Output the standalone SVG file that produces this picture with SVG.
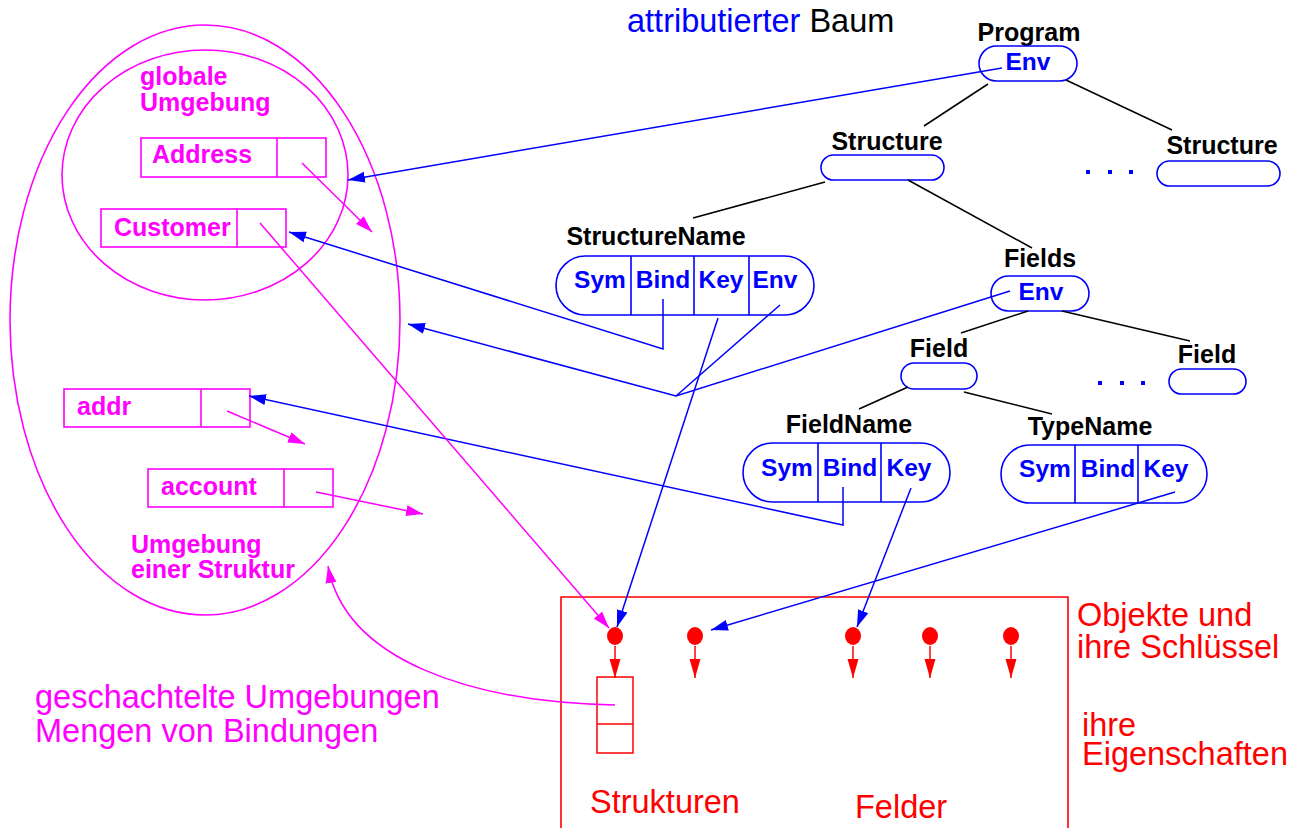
<svg xmlns="http://www.w3.org/2000/svg" width="1303" height="828" viewBox="0 0 1303 828">
<style>
.bk{font-family:"Liberation Sans",Arial,sans-serif;font-weight:bold;font-size:25px;fill:#000;text-anchor:middle}
.bl{font-family:"Liberation Sans",Arial,sans-serif;font-weight:bold;font-size:24.5px;fill:#0000ff;text-anchor:middle}
.mg{font-family:"Liberation Sans",Arial,sans-serif;font-weight:bold;font-size:25px;fill:#ff00ff}
.rd{font-family:"Liberation Sans",Arial,sans-serif;font-size:32.5px;fill:#ff0000}
.mgl{font-family:"Liberation Sans",Arial,sans-serif;font-size:32.5px;fill:#ff00ff}
.pill{fill:none;stroke:#0000ff;stroke-width:1.6}
.div{stroke:#0000ff;stroke-width:1.6}
.tree{stroke:#000;stroke-width:1.5;fill:none}
.bla{stroke:#0000ff;stroke-width:1.5;fill:none}
.mga{stroke:#ff00ff;stroke-width:1.5;fill:none}
.rda{stroke:#ff0000;stroke-width:1.5;fill:none}
.mbox{fill:none;stroke:#ff00ff;stroke-width:1.6}
</style>
<defs>
<marker id="ab" markerUnits="userSpaceOnUse" markerWidth="18" markerHeight="12" refX="17" refY="6" orient="auto"><path d="M0,0.5 L17,6 L0,11.5 z" fill="#0000ff"/></marker>
<marker id="am" markerUnits="userSpaceOnUse" markerWidth="18" markerHeight="12" refX="17" refY="6" orient="auto"><path d="M0,0.5 L17,6 L0,11.5 z" fill="#ff00ff"/></marker>
<marker id="ar" markerUnits="userSpaceOnUse" markerWidth="20" markerHeight="12" refX="19" refY="6" orient="auto"><path d="M0,0.5 L19,6 L0,11.5 z" fill="#ff0000"/></marker>
</defs>
<rect width="1303" height="828" fill="#fff"/>

<text x="627" y="32" font-family="Liberation Sans, Arial, sans-serif" font-size="32.5"><tspan fill="#0000ff">attributierter</tspan><tspan fill="#000"> Baum</tspan></text>

<g id="environments">
<ellipse cx="205" cy="320" rx="195" ry="295" fill="none" stroke="#ff00ff" stroke-width="1.6"/>
<ellipse cx="205" cy="175" rx="143" ry="125" fill="none" stroke="#ff00ff" stroke-width="1.6"/>
<text class="mg" x="140" y="85">globale</text>
<text class="mg" x="140" y="111">Umgebung</text>
<text class="mg" x="131" y="553">Umgebung</text>
<text class="mg" x="131" y="578">einer Struktur</text>
</g>
<g id="bind-address"><rect class="mbox" x="141" y="138" width="185" height="39"/><line class="mbox" x1="277" y1="138" x2="277" y2="177"/><text class="mg" x="152" y="163">Address</text></g>
<g id="bind-customer"><rect class="mbox" x="101" y="209" width="185" height="38"/><line class="mbox" x1="237" y1="209" x2="237" y2="247"/><text class="mg" x="114" y="236">Customer</text></g>
<g id="bind-addr"><rect class="mbox" x="64" y="389" width="186" height="38"/><line class="mbox" x1="201" y1="389" x2="201" y2="427"/><text class="mg" x="77" y="415">addr</text></g>
<g id="bind-account"><rect class="mbox" x="148" y="469" width="185" height="38"/><line class="mbox" x1="284" y1="469" x2="284" y2="507"/><text class="mg" x="161" y="495">account</text></g>

<g id="program"><text class="bk" x="1029" y="41">Program</text><rect class="pill" x="979" y="46" width="98" height="35" rx="17.5"/><text class="bl" x="1028" y="70">Env</text></g>
<g id="structure1"><text class="bk" x="887" y="150">Structure</text><rect class="pill" x="821" y="155" width="123" height="25" rx="12.5"/></g>
<g id="structure2"><text class="bk" x="1222" y="154">Structure</text><rect class="pill" x="1157" y="161" width="123" height="25" rx="12.5"/></g>
<g id="dots1" fill="#0000ff"><rect x="1086" y="170" width="4" height="4"/><rect x="1108" y="170" width="4" height="4"/><rect x="1129" y="170" width="4" height="4"/></g>
<g id="structurename"><text class="bk" x="656" y="245">StructureName</text><rect class="pill" x="556" y="256" width="258" height="59" rx="29.5"/>
<line class="div" x1="631" y1="256" x2="631" y2="315"/><line class="div" x1="694" y1="256" x2="694" y2="315"/><line class="div" x1="749" y1="256" x2="749" y2="315"/>
<text class="bl" x="600" y="288">Sym</text><text class="bl" x="663" y="288">Bind</text><text class="bl" x="721" y="288">Key</text><text class="bl" x="775" y="288">Env</text></g>
<g id="fields"><text class="bk" x="1040" y="267">Fields</text><rect class="pill" x="991" y="276" width="98" height="35" rx="17.5"/><text class="bl" x="1041" y="300">Env</text></g>
<g id="field1"><text class="bk" x="939" y="357">Field</text><rect class="pill" x="901" y="363" width="76" height="26" rx="13"/></g>
<g id="field2"><text class="bk" x="1207" y="363">Field</text><rect class="pill" x="1169" y="369" width="77" height="25" rx="12.5"/></g>
<g id="dots2" fill="#0000ff"><rect x="1098" y="381" width="4" height="4"/><rect x="1120" y="381" width="4" height="4"/><rect x="1141" y="381" width="4" height="4"/></g>
<g id="fieldname"><text class="bk" x="849" y="433">FieldName</text><rect class="pill" x="743" y="443" width="207" height="59" rx="29.5"/>
<line class="div" x1="818" y1="443" x2="818" y2="502"/><line class="div" x1="881" y1="443" x2="881" y2="502"/>
<text class="bl" x="787" y="476">Sym</text><text class="bl" x="850" y="476">Bind</text><text class="bl" x="909" y="476">Key</text></g>
<g id="typename"><text class="bk" x="1090" y="435">TypeName</text><rect class="pill" x="1001" y="445" width="206" height="58" rx="29"/>
<line class="div" x1="1075" y1="445" x2="1075" y2="503"/><line class="div" x1="1138" y1="445" x2="1138" y2="503"/>
<text class="bl" x="1045" y="477">Sym</text><text class="bl" x="1108" y="477">Bind</text><text class="bl" x="1166" y="477">Key</text></g>

<g id="objects">
<path d="M561,830 V597 H1068 V830" fill="none" stroke="#ff0000" stroke-width="1.6"/>
<g fill="#ff0000"><ellipse cx="615" cy="636" rx="8" ry="9"/><ellipse cx="695" cy="636" rx="8" ry="9"/><ellipse cx="853" cy="636" rx="8" ry="9"/><ellipse cx="930" cy="636" rx="8" ry="9"/><ellipse cx="1011" cy="636" rx="8" ry="9"/></g>
<rect x="597" y="677" width="36" height="76" fill="none" stroke="#ff0000" stroke-width="1.5"/>
<line x1="597" y1="724" x2="633" y2="724" stroke="#ff0000" stroke-width="1.5"/>
<text class="rd" x="1077" y="626">Objekte und</text>
<text class="rd" x="1077" y="658">ihre Schlüssel</text>
<text class="rd" x="1082" y="736">ihre</text>
<text class="rd" x="1082" y="765">Eigenschaften</text>
<text class="rd" x="590" y="813">Strukturen</text>
<text class="rd" x="855" y="818">Felder</text>
</g>
<text class="mgl" x="35" y="708">geschachtelte Umgebungen</text>
<text class="mgl" x="35" y="742">Mengen von Bindungen</text>

<g id="connectors">
<line class="tree" x1="988" y1="84" x2="924" y2="126"/>
<line class="tree" x1="1066" y1="80" x2="1172" y2="130"/>
<line class="tree" x1="825" y1="182" x2="693" y2="218"/>
<line class="tree" x1="908" y1="180" x2="1032" y2="248"/>
<line class="tree" x1="1028" y1="311" x2="961" y2="333"/>
<line class="tree" x1="1062" y1="311" x2="1190" y2="341"/>
<line class="tree" x1="908" y1="387" x2="859" y2="409"/>
<line class="tree" x1="964" y1="392" x2="1052" y2="414"/>

<line class="bla" x1="1002" y1="68" x2="348" y2="180" marker-end="url(#ab)"/>
<polyline class="bla" points="663,299 663,349 289,232" marker-end="url(#ab)"/>
<polyline class="bla" points="1010,291 676,396 408,324" marker-end="url(#ab)"/>
<line class="bla" x1="780" y1="305" x2="676" y2="396"/>
<line class="bla" x1="718" y1="318" x2="617" y2="627" marker-end="url(#ab)"/>
<polyline class="bla" points="843,487 843,525 249,396" marker-end="url(#ab)"/>
<line class="bla" x1="911" y1="488" x2="857" y2="627" marker-end="url(#ab)"/>
<line class="bla" x1="1175" y1="492" x2="711" y2="630" marker-end="url(#ab)"/>

<line class="mga" x1="302" y1="163" x2="372" y2="232" marker-end="url(#am)"/>
<line class="mga" x1="260" y1="223" x2="609" y2="628" marker-end="url(#am)"/>
<line class="mga" x1="227" y1="411" x2="305" y2="444" marker-end="url(#am)"/>
<line class="mga" x1="316" y1="492" x2="423" y2="514" marker-end="url(#am)"/>
<path class="mga" d="M615,705 C470,702 345,660 328,566" marker-end="url(#am)"/>

<line class="rda" x1="615" y1="646" x2="615" y2="678" marker-end="url(#ar)"/>
<line class="rda" x1="695" y1="646" x2="695" y2="678" marker-end="url(#ar)"/>
<line class="rda" x1="853" y1="646" x2="853" y2="678" marker-end="url(#ar)"/>
<line class="rda" x1="930" y1="646" x2="930" y2="678" marker-end="url(#ar)"/>
<line class="rda" x1="1011" y1="646" x2="1011" y2="678" marker-end="url(#ar)"/>
</g>
</svg>
